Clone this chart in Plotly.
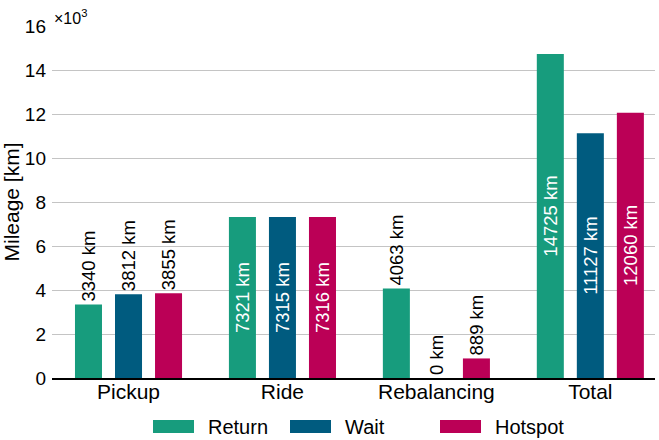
import plotly.graph_objects as go

categories = ["Pickup", "Ride", "Rebalancing", "Total"]
series_names = ["Return", "Wait", "Hotspot"]
return_km = [3340, 7321, 4063, 14725]
wait_km = [3812, 7315, 0, 11127]
hotspot_km = [3855, 7316, 889, 12060]
colors = ["#179c7d", "#005b7f", "#bb0056"]
y_ticks = [0, 2, 4, 6, 8, 10, 12, 14, 16]

FONT = "Liberation Sans, Arial, sans-serif"
fig = go.Figure()
for name, vals, col in zip(series_names, [return_km, wait_km, hotspot_km], colors):
    fig.add_trace(go.Bar(
        x=categories, y=[v / 1000 for v in vals], name=name,
        marker=dict(color=col, line=dict(width=0)),
        text=[f"{v} km" for v in vals],
        textposition=["inside" if v > 5000 else "outside" for v in vals],
        insidetextanchor="middle",
        textangle=-90,
        constraintext="none",
        insidetextfont=dict(color="white", size=18.5, family=FONT),
        outsidetextfont=dict(color="black", size=18.5, family=FONT),
        cliponaxis=False,
        showlegend=False,
    ))

fig.update_layout(
    width=659, height=440,
    margin=dict(l=52, r=4, t=26, b=62),
    paper_bgcolor="white", plot_bgcolor="white",
    barmode="group", bargap=0.22, bargroupgap=0.325,
    font=dict(family=FONT, size=19, color="black"),
    xaxis=dict(range=[-0.497, 3.42], showline=True, linecolor="black", linewidth=1.5,
               ticks="", tickfont=dict(size=21), showgrid=False, ticklabelstandoff=-6),
    yaxis=dict(range=[0, 16], tickvals=y_ticks, ticktext=[str(t) for t in y_ticks],
               showgrid=True, gridcolor="#c4c4c4", gridwidth=1, zeroline=False,
               tickfont=dict(size=19), ticks="", ticklabelstandoff=5,
               title=dict(text="Mileage [km]", font=dict(size=21), standoff=6)),
)
fig.add_annotation(xref="paper", yref="paper", x=0.0, y=1.0, xanchor="left", yanchor="bottom",
                   text="×10<sup>3</sup>", showarrow=False, font=dict(size=16), yshift=-3)

# manual legend (pixel positions converted to paper coords)
PL, PW, PB, PH = 52, 603, 378, 352
leg_x = [153, 290, 440]
for name, col, lx in zip(series_names, colors, leg_x):
    fig.add_shape(type="rect", xref="paper", yref="paper",
                  x0=(lx - PL) / PW, x1=(lx + 41 - PL) / PW,
                  y0=-(433 - PB) / PH, y1=-(420 - PB) / PH,
                  fillcolor=col, line=dict(width=0), layer="above")
    fig.add_annotation(xref="paper", yref="paper", x=(lx + 53 - PL) / PW, y=-(427 - PB) / PH,
                       xanchor="left", yanchor="middle", text=name, showarrow=False,
                       font=dict(size=20))

fig.write_html("out.html", config={"displayModeBar": False},
               post_script="document.body.style.margin='0';document.body.style.overflow='hidden';")
